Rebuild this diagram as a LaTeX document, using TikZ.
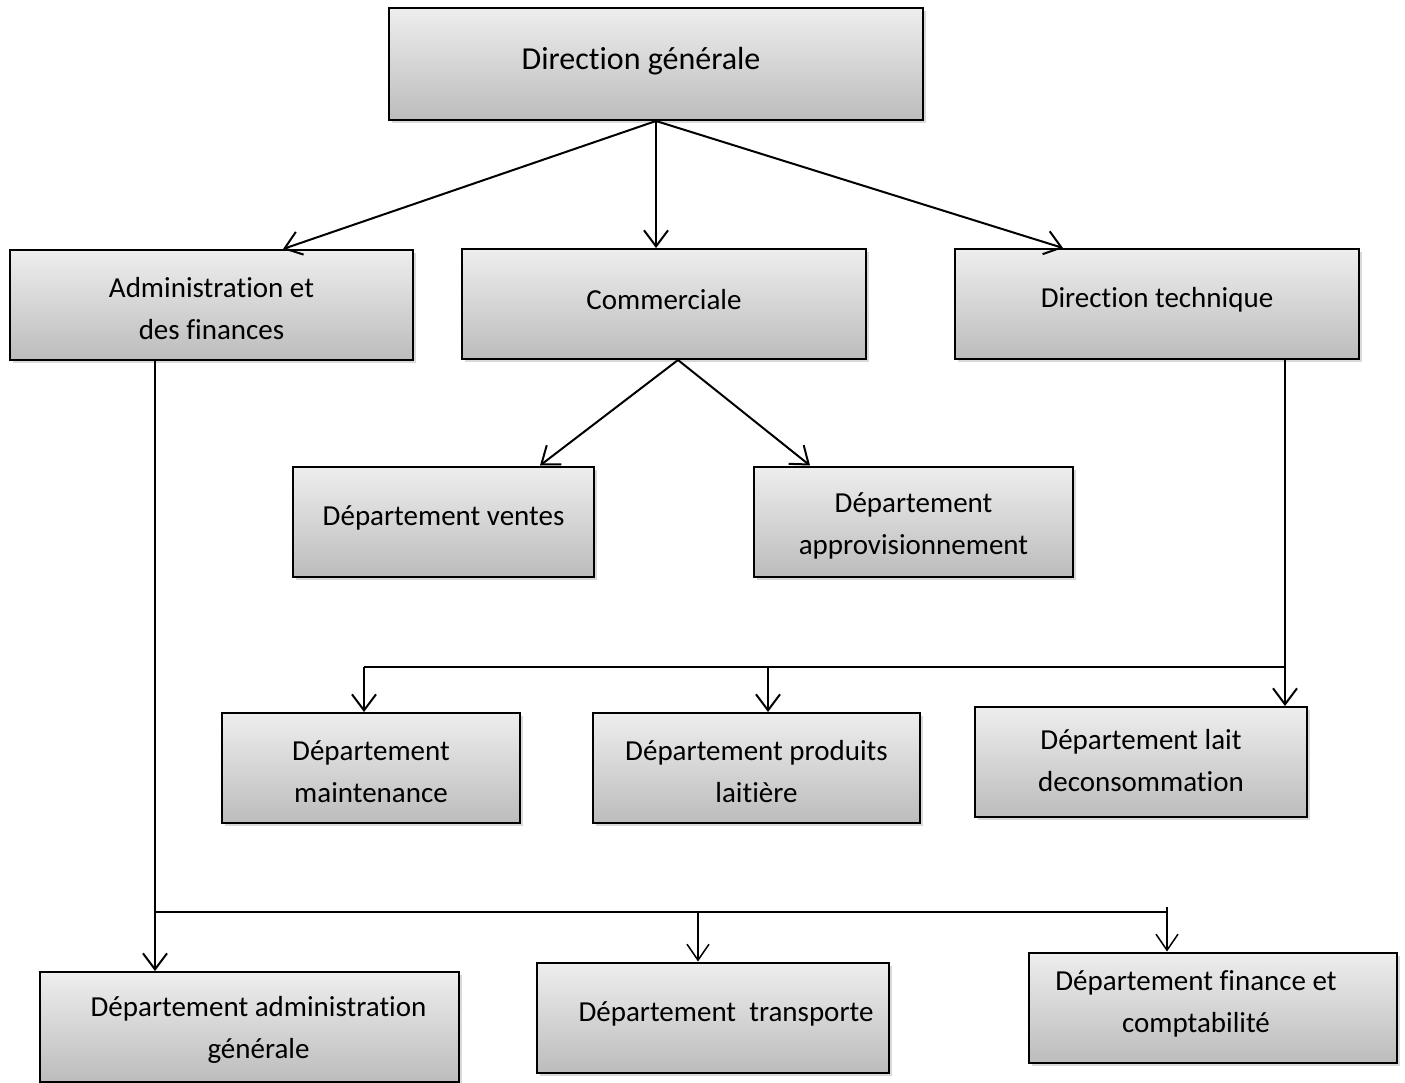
\documentclass[tikz,border=0pt]{standalone}
\usepackage{fontspec}
\setmainfont[Ligatures=NoCommon]{Carlito}
\usetikzlibrary{arrows.meta,shadows}
\definecolor{boxtop}{RGB}{238,238,238}
\definecolor{boxbot}{RGB}{188,188,188}
\begin{document}
\begin{tikzpicture}[x=1pt,y=-1pt,line join=miter,font=\fontsize{29}{42}\selectfont,
	dept/.style={draw,line width=2pt,top color=boxtop,bottom color=boxbot,minimum height=110pt,
		drop shadow={opacity=0.3,shadow xshift=3pt,shadow yshift=-3pt}},
	every label/.style={align=center},
	arr/.style={line width=2pt,-{Straight Barb[length=16pt,width=24pt,line width=2pt]}},
	thin arr/.style={line width=1.5pt,-{Straight Barb[length=16pt,width=22pt,line width=1.5pt]}}]
	\useasboundingbox (0,0) rectangle (1405,1082);
	% boxes
	\node[dept,minimum width=534pt,minimum height=112pt,label={[xshift=-15pt,yshift=3pt,font=\fontsize{32}{42}\selectfont]center:Direction générale}] (dg) at (656,64) {};
	\node[dept,minimum width=403pt,label={[yshift=-4pt]center:Administration et\\des finances}] (adm) at (211.5,305) {};
	\node[dept,minimum width=404pt,label={[yshift=4pt]center:Commerciale}] (com) at (664,304) {};
	\node[dept,minimum width=404pt,label={[yshift=4pt]center:Direction technique}] (tech) at (1157,304) {};
	\node[dept,minimum width=301pt,label={[yshift=4pt]center:Département ventes}] (vente) at (443.5,521.5) {};
	\node[dept,minimum width=319pt,label={[yshift=-4pt]center:Département\\approvisionnement}] (appro) at (913.5,521.5) {};
	\node[dept,minimum width=298pt,label={[yshift=-4pt]center:Département\\maintenance}] (maint) at (371,768) {};
	\node[dept,minimum width=327pt,label={[yshift=-4pt]center:Département produits\\laitière}] (prod) at (756.5,768) {};
	\node[dept,minimum width=332pt,label={[yshift=1pt]center:Département lait\\deconsommation}] (lait) at (1141,762) {};
	\node[dept,minimum width=419pt,label={[xshift=9pt,yshift=-3pt]center:Département administration\\générale}] (admg) at (249.5,1027) {};
	\node[dept,minimum width=352pt,label={[xshift=13pt,yshift=4pt]center:Département~~transporte}] (trans) at (713,1017.5) {};
	\node[dept,minimum width=368pt,label={[xshift=-17pt,yshift=4pt]center:Département finance et\\comptabilité}] (fin) at (1213,1007.5) {};
	% junctions
	\coordinate (tj) at (1285,667);
	\coordinate (ml) at (364,667);
	\coordinate (pj) at (768,667);
	\coordinate (aj) at (155,912);
	\coordinate (tj2) at (698,912);
	\coordinate (fj) at (1167,912);
	% top level
	\draw[arr] (dg.south) -- ([xshift=71.5pt]adm.north);
	\draw[arr] (dg.south) -- ([xshift=-8pt]com.north);
	\draw[arr] (dg.south) -- ([xshift=-94pt]tech.north);
	\draw[arr] ([xshift=14pt]com.south) -- ([xshift=96.5pt]vente.north);
	\draw[arr] ([xshift=14pt]com.south) -- ([xshift=-103.5pt]appro.north);
	% technique
	\draw[arr] ([xshift=128pt]tech.south) -- ([xshift=144pt]lait.north);
	\draw[line width=2pt] (tj) -- (ml);
	\draw[arr] (ml) -- (maint.north -| ml);
	\draw[arr] (pj) -- (prod.north -| pj);
	% administration
	\draw[arr] ([xshift=-56.5pt]adm.south) -- (admg.north -| aj);
	\draw[line width=1.5pt] (aj) -- (fj);
	\draw[thin arr] (tj2) -- (trans.north -| tj2);
	\draw[thin arr] ([yshift=5pt]fj) -- (fin.north -| fj);
\end{tikzpicture}
\end{document}
